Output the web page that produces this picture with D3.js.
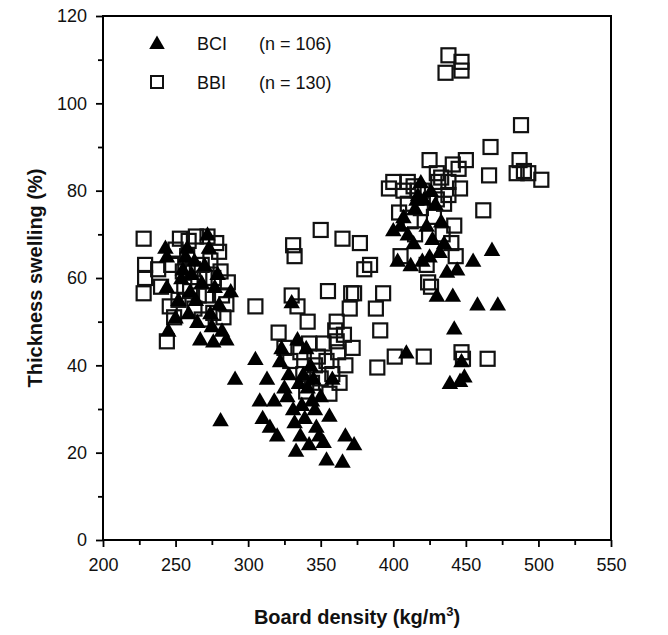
<!DOCTYPE html>
<html>
<head>
<meta charset="utf-8">
<script src="https://cdnjs.cloudflare.com/ajax/libs/d3/7.8.5/d3.min.js"></script>
<style>
  body { margin: 0; background: #fff; }
  svg { display: block; font-family: "Liberation Sans", Arial, sans-serif; }
</style>
</head>
<body>
<svg id="chart" width="668" height="635"></svg>
<script>
// board density (kg/m3), thickness swelling (%)
const bciX = [243,244,244,245,250,252,254,255,257,258,259,260,261,263,264,265,267,268,270,272,273,274,275,276,277,279,280,282,285,281,291,288,
  305,308,310,313,315,318,320,322,323,325,327,328,330,331,332,333,334,335,336,337,338,339,340,341,342,343,344,345,346,347,349,350,352,354,356,358,365,367,373,
  400,403,405,407,409,410,412,414,415,417,419,420,421,423,425,427,429,430,432,433,435,437,439,441,442,444,446,447,449,455,458,468,472,426,416];
const bciY = [67,65,58,48,51,55,60,62,65,67,52,57,61,64,55,50,46,59,63,70,67,52,49,45.5,58,61,54,48,46,27.5,37,57,
  41.5,32,28,37,26,32,24,41,44,35,33,38,54.5,30,27,20.5,46,36,24,31,38,28,44,35,22,40,32,37,30,26,24,33,22.5,18.5,28.5,37,18,24,22,
  71,64,72,74,43,70,63,68,76,79,82,64,78,72,65,69,77,56,66,73,68,61.5,36,56,48.5,62,36.5,41,37.5,64,54,66.5,54,80,78];

const bbiX = [228,229,229,228,238,240,244,246,249,250,253,256,259,262,264,266,268,270,272,274,276,278,280,281,282,283,286,263,255,247,285,271,260,
  305,321,329,331,332,334,336,338,341,344,346,350,352,355,356,358,360,361,362,365,366,367,370,371,373,377,380,384,388,389,391,393,340,350,363,325,330,348,372,
  397,400,401,404,407,410,414,417,419,421,424,425,426,428,430,431,433,436,438,440,441,442,443,446,447,447,447,448,450,462,465,466,467,485,487,488,490,493,502,
  412,420,435,438,423,405,415,434,445,410,430,258,268,276,252,342,354,361,438];
const bbiY = [69,63,60,56.5,62,58,45.5,53.5,51,66.5,69,58,68.5,62,69.5,56,50.5,60,69.5,64,52,68,66,61.5,56,51,59,53,61.5,63,54,56,57,
  53.5,47.5,41,67.5,65,53.5,43,38,50,36,40,71,45,57,33.5,38,48,45.5,43,69,47,40,53,56.5,56.5,68,62,63,53,39.5,48,56.5,34,37,36,44,56,42,44,
  80.5,82,42,75,80,77,81,80,76,42,59,87,58,74,84,82,83,107,111,68,86,72,65,80.5,109.5,107.5,43,41.5,87,75.5,41.5,83.5,90,84,87,95,84.5,84,82.5,
  73,80,77,82,63,65,70,70,85,82,78,65,63,60,55,45,41,50,79];

const xTicks = [200, 250, 300, 350, 400, 450, 500, 550];
const yTicks = [0, 20, 40, 60, 80, 100, 120];

const legendLabels = ["BCI", "BBI"];
const legendCounts = ["(n = 106)", "(n = 130)"];

const margin = { top: 16, right: 57, bottom: 95, left: 103 };
const svg = d3.select("#chart");
const width = 668 - margin.left - margin.right;
const height = 635 - margin.top - margin.bottom;

const g = svg.append("g").attr("transform", `translate(${margin.left},${margin.top})`);

const x = d3.scaleLinear().domain([200, 550]).range([0, width]);
const y = d3.scaleLinear().domain([0, 120]).range([height, 0]);

// minor ticks first
g.append("g")
  .attr("transform", `translate(0,${height})`)
  .call(d3.axisBottom(x).tickValues(d3.range(225, 550, 50)).tickSize(5).tickFormat(""))
  .call(a => a.select(".domain").remove())
  .selectAll("line").attr("stroke-width", 1.8);
g.append("g")
  .call(d3.axisLeft(y).tickValues(d3.range(10, 120, 20)).tickSize(5).tickFormat(""))
  .call(a => a.select(".domain").remove())
  .selectAll("line").attr("stroke-width", 1.8);

const xAxis = g.append("g")
  .attr("transform", `translate(0,${height})`)
  .call(d3.axisBottom(x).tickValues(xTicks).tickSize(7).tickPadding(11));
const yAxis = g.append("g")
  .call(d3.axisLeft(y).tickValues(yTicks).tickSize(7).tickPadding(9));

[xAxis, yAxis].forEach(a => {
  a.select(".domain").remove();
  a.selectAll("line").attr("stroke-width", 1.8);
  a.selectAll("text").attr("font-size", 18).attr("fill", "#111").attr("font-family", "Liberation Sans, Arial, sans-serif");
});

// frame
g.append("rect")
  .attr("width", width).attr("height", height)
  .attr("fill", "none").attr("stroke", "#000").attr("stroke-width", 2);

const tri = d3.symbol().type(d3.symbolTriangle).size(118);
const sq = 14;

const bbi = bbiX.map((v, i) => ({ x: v, y: bbiY[i] }));
const bci = bciX.map((v, i) => ({ x: v, y: bciY[i] }));

g.selectAll(".bbi")
  .data(bbi)
  .join("rect")
  .attr("class", "bbi")
  .attr("x", d => x(d.x) - sq / 2)
  .attr("y", d => y(d.y) - sq / 2)
  .attr("width", sq).attr("height", sq)
  .attr("fill", "none")
  .attr("stroke", "#111")
  .attr("stroke-width", 2.2);

g.selectAll(".bci")
  .data(bci)
  .join("path")
  .attr("class", "bci")
  .attr("d", tri)
  .attr("transform", d => `translate(${x(d.x)},${y(d.y) + 1.5})`)
  .attr("fill", "#000");

// legend
const leg = g.append("g").attr("transform", "translate(54,27)");
leg.append("path").attr("d", d3.symbol().type(d3.symbolTriangle).size(105)).attr("transform", "translate(0,1.5)").attr("fill", "#000");
leg.append("rect").attr("x", -6).attr("y", 33).attr("width", 12).attr("height", 12)
  .attr("fill", "none").attr("stroke", "#111").attr("stroke-width", 2);
legendLabels.forEach((t, i) => {
  leg.append("text").attr("x", 40).attr("y", 7 + i * 39).attr("font-size", 18).attr("fill", "#111").text(t);
  leg.append("text").attr("x", 102).attr("y", 7 + i * 39).attr("font-size", 18).attr("fill", "#111").text(legendCounts[i]);
});

// axis titles
svg.append("text")
  .attr("x", margin.left + width / 2)
  .attr("y", 624)
  .attr("text-anchor", "middle")
  .attr("font-size", 20).attr("font-weight", "bold").attr("fill", "#111")
  .text("Board density (kg/m")
  .append("tspan").attr("dy", -8).attr("font-size", 13).text("3")
  .select(function () { return this.parentNode; })
  .append("tspan").attr("dy", 8).text(")");

svg.append("text")
  .attr("transform", `translate(42,${margin.top + height / 2}) rotate(-90)`)
  .attr("text-anchor", "middle")
  .attr("font-size", 20).attr("font-weight", "bold").attr("fill", "#111")
  .text("Thickness swelling (%)");
</script>
</body>
</html>
